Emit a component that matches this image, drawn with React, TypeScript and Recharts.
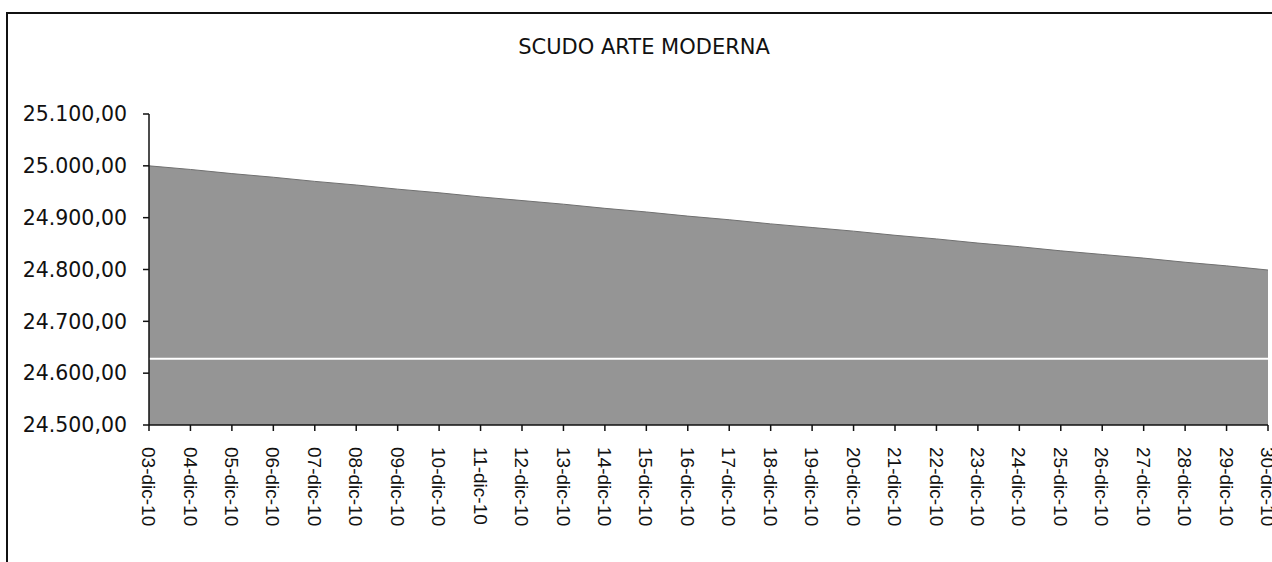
import { AreaChart, Area, XAxis, YAxis, ReferenceLine } from 'recharts'

const dates = [
  '03-dic-10', '04-dic-10', '05-dic-10', '06-dic-10', '07-dic-10', '08-dic-10', '09-dic-10',
  '10-dic-10', '11-dic-10', '12-dic-10', '13-dic-10', '14-dic-10', '15-dic-10', '16-dic-10',
  '17-dic-10', '18-dic-10', '19-dic-10', '20-dic-10', '21-dic-10', '22-dic-10', '23-dic-10',
  '24-dic-10', '25-dic-10', '26-dic-10', '27-dic-10', '28-dic-10', '29-dic-10', '30-dic-10',
]

const values = [
  25000, 24993, 24985, 24978, 24970, 24963, 24955,
  24948, 24940, 24933, 24926, 24918, 24911, 24903,
  24896, 24888, 24881, 24874, 24866, 24859, 24851,
  24844, 24836, 24829, 24822, 24814, 24807, 24799,
]

const yTicks = [24500, 24600, 24700, 24800, 24900, 25000, 25100]

// scan artifact: white streak across the plot
const streakValue = 24628

const data = dates.map((d, i) => ({ date: d, value: values[i] }))

const fmt = (v: number) => {
  const whole = Math.floor(v).toString().replace(/\B(?=(\d{3})+(?!\d))/g, '.')
  return `${whole},00`
}

function DateTick({ x, y, payload }: any) {
  return (
    <g transform={`translate(${x},${y})`}>
      <text
        transform="rotate(90)"
        x={0}
        y={0}
        dy="0.36em"
        textAnchor="start"
        fontFamily="'Liberation Sans', Arial, sans-serif"
        fontSize={19}
        fill="#111"
      >
        {payload.value}
      </text>
    </g>
  )
}

export default function App() {
  return (
    <div style={{ position: 'absolute', left: 0, top: 0, width: 1272, height: 562, overflow: 'hidden', background: '#fff' }}>
      <div
        style={{
          position: 'absolute',
          left: 6,
          top: 12,
          width: 1300,
          height: 620,
          border: '2px solid #111',
        }}
      />
      <div
        style={{
          position: 'absolute',
          left: 444,
          top: 34,
          width: 400,
          textAlign: 'center',
          fontFamily: "'DejaVu Sans', sans-serif",
          fontSize: 21,
          lineHeight: '26px',
          color: '#111',
        }}
      >
        SCUDO ARTE MODERNA
      </div>
      <div style={{ position: 'absolute', left: 0, top: 0 }}>
        <AreaChart width={1272} height={562} data={data} margin={{ top: 114, right: 4, bottom: 0, left: 0 }}>
          <XAxis
            dataKey="date"
            height={137}
            interval={0}
            tickSize={6}
            tickMargin={16}
            axisLine={{ stroke: '#111', strokeWidth: 1.5 }}
            tickLine={{ stroke: '#111', strokeWidth: 1.5 }}
            tick={<DateTick />}
          />
          <YAxis
            width={149}
            domain={[24500, 25100]}
            ticks={yTicks}
            allowDataOverflow
            tickFormatter={fmt}
            tickSize={6}
            tickMargin={16}
            axisLine={{ stroke: '#111', strokeWidth: 1.5 }}
            tickLine={{ stroke: '#111', strokeWidth: 1.5 }}
            tick={{ fontFamily: "'DejaVu Sans', sans-serif", fontSize: 20.5, fill: '#111' }}
          />
          <Area
            type="linear"
            dataKey="value"
            fill="#959595"
            fillOpacity={1}
            stroke="#707070"
            strokeWidth={1}
            isAnimationActive={false}
          />
          <ReferenceLine y={streakValue} stroke="#ffffff" strokeWidth={2} />
        </AreaChart>
      </div>
    </div>
  )
}
